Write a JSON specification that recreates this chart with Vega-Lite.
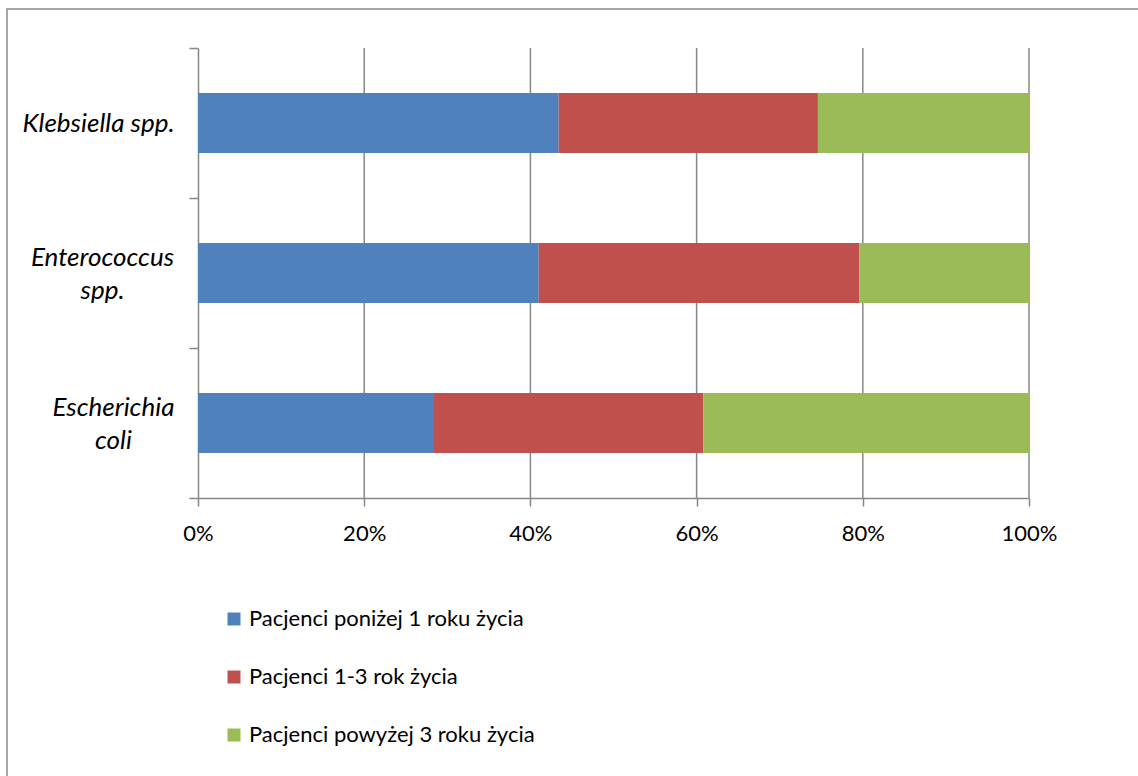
{
  "$schema": "https://vega.github.io/schema/vega-lite/v6.json",
  "autosize": {"type": "none"},
  "width": 1140,
  "height": 777,
  "padding": {"left": 7, "top": 9, "right": -9, "bottom": -10},
  "background": "white",
  "datasets": {
    "udzialy": [
      {"gatunek": "Klebsiella spp.", "grupa": "Pacjenci poniżej 1 roku życia", "nr": 1, "procent": 43.4},
      {"gatunek": "Klebsiella spp.", "grupa": "Pacjenci 1-3 rok życia", "nr": 2, "procent": 31.2},
      {"gatunek": "Klebsiella spp.", "grupa": "Pacjenci powyżej 3 roku życia", "nr": 3, "procent": 25.4},
      {"gatunek": "Enterococcus spp.", "grupa": "Pacjenci poniżej 1 roku życia", "nr": 1, "procent": 41.0},
      {"gatunek": "Enterococcus spp.", "grupa": "Pacjenci 1-3 rok życia", "nr": 2, "procent": 38.6},
      {"gatunek": "Enterococcus spp.", "grupa": "Pacjenci powyżej 3 roku życia", "nr": 3, "procent": 20.4},
      {"gatunek": "Escherichia coli", "grupa": "Pacjenci poniżej 1 roku życia", "nr": 1, "procent": 28.4},
      {"gatunek": "Escherichia coli", "grupa": "Pacjenci 1-3 rok życia", "nr": 2, "procent": 32.4},
      {"gatunek": "Escherichia coli", "grupa": "Pacjenci powyżej 3 roku życia", "nr": 3, "procent": 39.2}
    ],
    "siatka": [
      {"poziom": 0.2}, {"poziom": 0.4}, {"poziom": 0.6}, {"poziom": 0.8}, {"poziom": 1.0}
    ]
  },
  "encoding": {
    "x": {
      "scale": {"domain": [0, 1], "range": [191, 1022]},
      "axis": {
        "title": null,
        "offset": -288,
        "values": [0, 0.2, 0.4, 0.6, 0.8, 1],
        "format": ".0%",
        "grid": false,
        "tickSize": 8,
        "labelFont": "Lato",
        "labelFontSize": 22,
        "labelColor": "#000000",
        "labelPadding": 17,
        "labelFlush": false
      }
    },
    "y": {
      "scale": {
        "domain": ["Klebsiella spp.", "Enterococcus spp.", "Escherichia coli"],
        "range": [39, 489],
        "paddingInner": 0,
        "paddingOuter": 0
      }
    }
  },
  "layer": [
    {
      "data": {"name": "siatka"},
      "mark": {"type": "rule", "color": "#878787", "strokeWidth": 1.5},
      "encoding": {
        "x": {"field": "poziom", "type": "quantitative"},
        "y": {"datum": "Klebsiella spp.", "type": "nominal", "bandPosition": 0},
        "y2": {"datum": "Escherichia coli", "bandPosition": 1}
      }
    },
    {
      "data": {"name": "udzialy"},
      "mark": {"type": "bar", "height": {"band": 0.4}},
      "encoding": {
        "y": {
          "field": "gatunek",
          "type": "nominal",
          "sort": ["Klebsiella spp.", "Enterococcus spp.", "Escherichia coli"],
          "axis": {
            "title": null,
            "offset": -191,
            "tickBand": "extent",
            "tickSize": 9,
            "labelAlign": "center",
            "labelBaseline": "middle",
            "labelFont": "Lato",
            "labelFontSize": 26,
            "labelFontStyle": "italic",
            "labelColor": "#000000",
            "labelLineHeight": 33,
            "labelLimit": 0,
            "labelOffset": {
              "condition": {"test": "datum.value === 'Klebsiella spp.'", "value": 0},
              "value": -16
            },
            "labelPadding": {
              "condition": [
                {"test": "datum.value === 'Klebsiella spp.'", "value": 91},
                {"test": "datum.value === 'Enterococcus spp.'", "value": 87}
              ],
              "value": 76
            },
            "labelExpr": "isValid(datum.value) ? (datum.value === 'Klebsiella spp.' ? datum.value : split(datum.value, ' ')) : ''"
          }
        },
        "x": {"field": "procent", "type": "quantitative", "stack": "normalize"},
        "order": {"field": "nr", "type": "quantitative"},
        "color": {
          "field": "grupa",
          "type": "nominal",
          "scale": {
            "domain": ["Pacjenci poniżej 1 roku życia", "Pacjenci 1-3 rok życia", "Pacjenci powyżej 3 roku życia"],
            "range": ["#4F81BD", "#C0504D", "#9BBB59"]
          },
          "legend": {
            "title": null,
            "orient": "none",
            "legendX": 216,
            "legendY": 599,
            "direction": "vertical",
            "padding": 0,
            "symbolType": "square",
            "symbolSize": 169,
            "symbolStrokeWidth": 0,
            "labelOffset": 4,
            "labelFont": "Lato",
            "labelFontSize": 22,
            "labelLimit": 0,
            "labelColor": "#000000",
            "rowPadding": 36
          }
        }
      }
    }
  ],
  "resolve": {"scale": {"x": "shared", "y": "shared"}},
  "config": {
    "view": {"stroke": "#8a8a8a", "strokeWidth": 1.5},
    "axis": {
      "domainColor": "#878787",
      "domainWidth": 1.5,
      "tickColor": "#878787",
      "tickWidth": 1.5
    }
  }
}
